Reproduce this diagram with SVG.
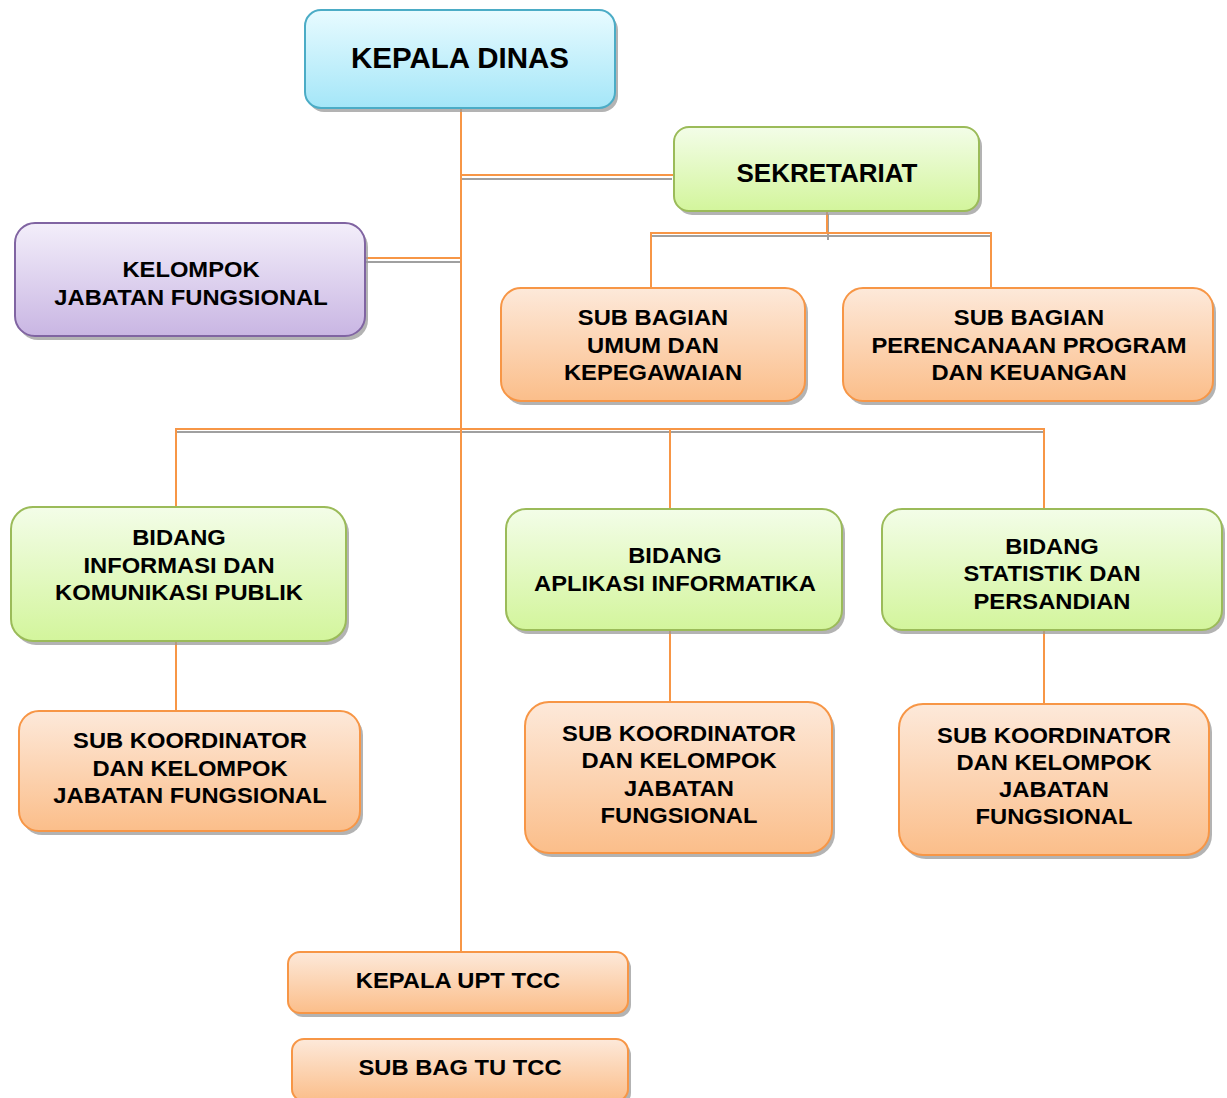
<svg xmlns="http://www.w3.org/2000/svg" width="1227" height="1098" viewBox="0 0 1227 1098">
<defs>
<linearGradient id="gCyan" x1="0" y1="0" x2="0" y2="1"><stop offset="0" stop-color="#e8fbff"/><stop offset="1" stop-color="#a4e6f8"/></linearGradient>
<linearGradient id="gGreen" x1="0" y1="0" x2="0" y2="1"><stop offset="0" stop-color="#f3fde8"/><stop offset="1" stop-color="#d3f59c"/></linearGradient>
<linearGradient id="gPurple" x1="0" y1="0" x2="0" y2="1"><stop offset="0" stop-color="#f3eefa"/><stop offset="1" stop-color="#c9b6e3"/></linearGradient>
<linearGradient id="gOrange" x1="0" y1="0" x2="0" y2="1"><stop offset="0" stop-color="#fde9da"/><stop offset="1" stop-color="#fbbe8a"/></linearGradient>
<style>
.sh{fill:#9a9a9a;opacity:0.75}
.cy{fill:url(#gCyan);stroke:#4bacc6;stroke-width:2}
.gr{fill:url(#gGreen);stroke:#9bbb59;stroke-width:2}
.pu{fill:url(#gPurple);stroke:#8064a2;stroke-width:2}
.or{fill:url(#gOrange);stroke:#f79646;stroke-width:2}
text{font-family:"Liberation Sans",Arial,sans-serif;font-weight:bold;fill:#000;text-anchor:middle}
.t{font-size:22px}
.con{stroke:#f79646;stroke-width:2;fill:none}
.csh{stroke:#a0a0a0;stroke-width:2;fill:none}
</style>
</defs>
<rect width="1227" height="1098" fill="#fff"/>

<g id="connectors">
<g class="csh">
<line x1="462" y1="179" x2="672" y2="179"/>
<line x1="366" y1="262" x2="460" y2="262"/>
<line x1="652" y1="236" x2="991" y2="236"/>
<line x1="828" y1="214" x2="828" y2="240"/>
<line x1="177" y1="432" x2="1045" y2="432"/>
</g>
<g class="con">
<line x1="461" y1="108" x2="461" y2="952"/>
<line x1="461" y1="175" x2="674" y2="175"/>
<line x1="365" y1="258" x2="461" y2="258"/>
<line x1="827" y1="211" x2="827" y2="233"/>
<polyline points="651,288 651,233 991,233 991,288"/>
<polyline points="176,507 176,429 1044,429 1044,509"/>
<line x1="670" y1="429" x2="670" y2="509"/>
<line x1="176" y1="641" x2="176" y2="711"/>
<line x1="670" y1="630" x2="670" y2="702"/>
<line x1="1044" y1="630" x2="1044" y2="704"/>
</g>
</g>

<g id="kepala-dinas">
<rect class="sh" x="308" y="14" width="310" height="98" rx="16"/>
<rect class="cy" x="305" y="10" width="310" height="98" rx="16"/>
<text x="460" y="68" style="font-size:29.5px">KEPALA DINAS</text>
</g>

<g id="sekretariat">
<rect class="sh" x="677" y="131" width="305" height="84" rx="15"/>
<rect class="gr" x="674" y="127" width="305" height="84" rx="15"/>
<text x="827" y="182" style="font-size:26px">SEKRETARIAT</text>
</g>

<g id="kelompok-jf">
<rect class="sh" x="18" y="227" width="350" height="113" rx="20"/>
<rect class="pu" x="15" y="223" width="350" height="113" rx="20"/>
<g transform="translate(191,0) scale(1.08,1)"><text class="t" x="0" y="277">KELOMPOK</text><text class="t" x="0" y="305">JABATAN FUNGSIONAL</text></g>
</g>

<g id="sub-bagian-umum">
<rect class="sh" x="504" y="292" width="304" height="113" rx="20"/>
<rect class="or" x="501" y="288" width="304" height="113" rx="20"/>
<g transform="translate(653,0) scale(1.08,1)"><text class="t" x="0" y="325">SUB BAGIAN</text><text class="t" x="0" y="353">UMUM DAN</text><text class="t" x="0" y="380">KEPEGAWAIAN</text></g>
</g>

<g id="sub-bagian-perencanaan">
<rect class="sh" x="846" y="292" width="370" height="113" rx="20"/>
<rect class="or" x="843" y="288" width="370" height="113" rx="20"/>
<g transform="translate(1029,0) scale(1.08,1)"><text class="t" x="0" y="325">SUB BAGIAN</text><text class="t" x="0" y="353">PERENCANAAN PROGRAM</text><text class="t" x="0" y="380">DAN KEUANGAN</text></g>
</g>

<g id="bidang-ikp">
<rect class="sh" x="14" y="511" width="335" height="134" rx="22"/>
<rect class="gr" x="11" y="507" width="335" height="134" rx="22"/>
<g transform="translate(179,0) scale(1.08,1)"><text class="t" x="0" y="545">BIDANG</text><text class="t" x="0" y="573">INFORMASI DAN</text><text class="t" x="0" y="600">KOMUNIKASI PUBLIK</text></g>
</g>

<g id="bidang-aplikasi">
<rect class="sh" x="509" y="513" width="336" height="121" rx="20"/>
<rect class="gr" x="506" y="509" width="336" height="121" rx="20"/>
<g transform="translate(675,0) scale(1.08,1)"><text class="t" x="0" y="563">BIDANG</text><text class="t" x="0" y="591">APLIKASI INFORMATIKA</text></g>
</g>

<g id="bidang-statistik">
<rect class="sh" x="885" y="513" width="340" height="121" rx="20"/>
<rect class="gr" x="882" y="509" width="340" height="121" rx="20"/>
<g transform="translate(1052,0) scale(1.08,1)"><text class="t" x="0" y="554">BIDANG</text><text class="t" x="0" y="581">STATISTIK DAN</text><text class="t" x="0" y="609">PERSANDIAN</text></g>
</g>

<g id="sub-koord-1">
<rect class="sh" x="22" y="715" width="341" height="120" rx="20"/>
<rect class="or" x="19" y="711" width="341" height="120" rx="20"/>
<g transform="translate(190,0) scale(1.08,1)"><text class="t" x="0" y="748">SUB KOORDINATOR</text><text class="t" x="0" y="776">DAN KELOMPOK</text><text class="t" x="0" y="803">JABATAN FUNGSIONAL</text></g>
</g>

<g id="sub-koord-2">
<rect class="sh" x="528" y="706" width="307" height="151" rx="24"/>
<rect class="or" x="525" y="702" width="307" height="151" rx="24"/>
<g transform="translate(679,0) scale(1.08,1)"><text class="t" x="0" y="741">SUB KOORDINATOR</text><text class="t" x="0" y="768">DAN KELOMPOK</text><text class="t" x="0" y="796">JABATAN</text><text class="t" x="0" y="823">FUNGSIONAL</text></g>
</g>

<g id="sub-koord-3">
<rect class="sh" x="902" y="708" width="310" height="151" rx="24"/>
<rect class="or" x="899" y="704" width="310" height="151" rx="24"/>
<g transform="translate(1054,0) scale(1.08,1)"><text class="t" x="0" y="743">SUB KOORDINATOR</text><text class="t" x="0" y="770">DAN KELOMPOK</text><text class="t" x="0" y="797">JABATAN</text><text class="t" x="0" y="824">FUNGSIONAL</text></g>
</g>

<g id="kepala-upt-tcc">
<rect class="sh" x="291" y="956" width="340" height="61" rx="12"/>
<rect class="or" x="288" y="952" width="340" height="61" rx="12"/>
<g transform="translate(458,0) scale(1.08,1)"><text class="t" x="0" y="988">KEPALA UPT TCC</text></g>
</g>

<g id="sub-bag-tu-tcc">
<rect class="sh" x="295" y="1043" width="336" height="62" rx="12"/>
<rect class="or" x="292" y="1039" width="336" height="62" rx="12"/>
<g transform="translate(460,0) scale(1.08,1)"><text class="t" x="0" y="1075">SUB BAG TU TCC</text></g>
</g>
</svg>
